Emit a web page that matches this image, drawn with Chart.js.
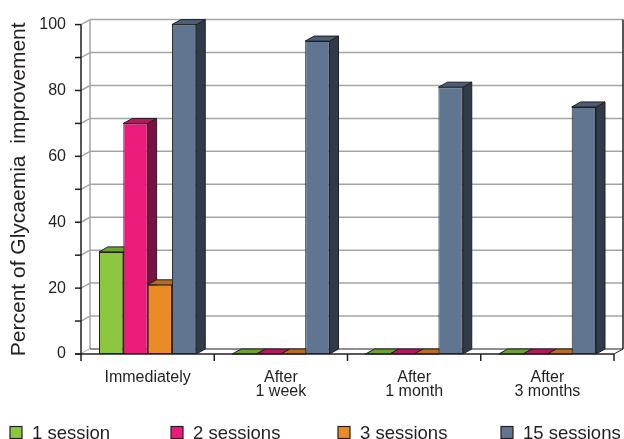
<!DOCTYPE html>
<html>
<head>
<meta charset="utf-8">
<script src="https://cdn.jsdelivr.net/npm/chart.js@4/dist/chart.umd.min.js"></script>
<style>
  html, body { margin: 0; padding: 0; background: #fff; }
  #wrap { width: 624px; height: 439px; position: relative; }
</style>
</head>
<body>
<div id="wrap"><canvas id="glycaemia-chart"></canvas></div>
<script>
// Chart data
const categories = ['Immediately', ['After', '1 week'], ['After', '1 month'], ['After', '3 months']];
const seriesNames = ['1 session', '2 sessions', '3 sessions', '15 sessions'];
const oneSession = [31, 0, 0, 0];
const twoSessions = [70, 0, 0, 0];
const threeSessions = [21, 0, 0, 0];
const fifteenSessions = [100, 95, 81, 75];

// front / top / side shades for each series
const fronts = ['#8cc63f', '#ec1b7b', '#ea8b25', '#5f7590'];
const tops = ['#6aa532', '#b8165f', '#bb6c1f', '#4b5e75'];
const sides = ['#4e7d22', '#7a1142', '#8a5115', '#2f3b48'];

const ink = '#231f20';
const gridColor = '#a5a5a5';
const fontFamily = '"Liberation Sans", Arial, sans-serif';
const dx = 9, dy = 5; // depth of the 3d boxes

function line(ctx, x1, y1, x2, y2) {
  ctx.beginPath();
  ctx.moveTo(x1, y1);
  ctx.lineTo(x2, y2);
  ctx.stroke();
}

function poly(ctx, pts, fill) {
  ctx.beginPath();
  ctx.moveTo(pts[0][0], pts[0][1]);
  for (let i = 1; i < pts.length; i++) ctx.lineTo(pts[i][0], pts[i][1]);
  ctx.closePath();
  ctx.fillStyle = fill;
  ctx.fill();
  ctx.stroke();
}

const box3d = {
  id: 'box3d',
  beforeDatasetsDraw(chart) {
    const ctx = chart.ctx;
    const a = chart.chartArea;
    const y = chart.scales.y;
    const bottom = y.getPixelForValue(0);
    const top = y.getPixelForValue(100);
    ctx.save();

    // back wall + left wall grid
    ctx.strokeStyle = gridColor;
    ctx.lineWidth = 1.5;
    for (let v = 0; v <= 100; v += 10) {
      const py = y.getPixelForValue(v);
      line(ctx, a.left, py, a.left + dx, py - dy);
      if (v > 0) line(ctx, a.left + dx, py - dy, a.right + dx, py - dy);
    }
    line(ctx, a.left + dx, top - dy, a.left + dx, bottom - dy);

    // floor
    ctx.strokeStyle = ink;
    ctx.lineWidth = 1;
    ctx.beginPath();
    ctx.moveTo(a.left, bottom);
    ctx.lineTo(a.right, bottom);
    ctx.lineTo(a.right + dx, bottom - dy);
    ctx.lineTo(a.left + dx, bottom - dy);
    ctx.closePath();
    ctx.fillStyle = '#fff';
    ctx.fill();
    line(ctx, a.left + dx, bottom - dy, a.right + dx, bottom - dy);
    line(ctx, a.right, bottom, a.right + dx, bottom - dy);
    ctx.lineWidth = 1.5;
    line(ctx, a.right + dx, top - dy, a.right + dx, bottom - dy);

    // tops and sides of the boxes, left to right
    const boxes = [];
    chart.data.datasets.forEach((ds, i) => {
      chart.getDatasetMeta(i).data.forEach(bar => boxes.push({bar, i}));
    });
    boxes.sort((p, q) => p.bar.x - q.bar.x);
    ctx.lineWidth = 1;
    ctx.strokeStyle = ink;
    ctx.lineJoin = 'round';
    boxes.forEach(({bar, i}) => {
      const x0 = bar.x - bar.width / 2;
      const x1 = bar.x + bar.width / 2;
      const t = Math.min(bar.y, bar.base);
      const b = bar.base;
      if (b - t > 0.5) {
        poly(ctx, [[x1, t], [x1 + dx, t - dy], [x1 + dx, b - dy], [x1, b]], sides[i]);
      }
      poly(ctx, [[x0, t], [x1, t], [x1 + dx, t - dy], [x0 + dx, t - dy]], tops[i]);
    });
    ctx.restore();
  },
  afterDatasetsDraw(chart) {
    const ctx = chart.ctx;
    const a = chart.chartArea;
    const y = chart.scales.y;
    const bottom = y.getPixelForValue(0);
    ctx.save();
    ctx.strokeStyle = ink;
    ctx.lineWidth = 1.5;
    // value axis with ticks every 10
    line(ctx, a.left, y.getPixelForValue(100), a.left, bottom);
    for (let v = 0; v <= 100; v += 10) {
      const py = y.getPixelForValue(v);
      line(ctx, a.left - 6, py, a.left, py);
    }
    // category axis with ticks between groups
    line(ctx, a.left - 6, bottom, a.right, bottom);
    const n = categories.length;
    for (let i = 0; i <= n; i++) {
      const px = a.left + i * (a.right - a.left) / n;
      line(ctx, px, bottom, px, bottom + 7);
    }
    ctx.restore();
  },
  afterDraw(chart) {
    // legend along the bottom
    const ctx = chart.ctx;
    const boxX = [10, 171, 338, 501];
    ctx.save();
    ctx.font = '18.5px ' + fontFamily;
    ctx.textBaseline = 'alphabetic';
    ctx.fillStyle = ink;
    ctx.lineWidth = 1.2;
    ctx.strokeStyle = ink;
    chart.data.datasets.forEach((ds, i) => {
      ctx.fillStyle = fronts[i];
      ctx.fillRect(boxX[i], 426.5, 12, 12);
      ctx.strokeRect(boxX[i], 426.5, 12, 12);
      ctx.fillStyle = ink;
      ctx.fillText(ds.label, boxX[i] + 22, 439);
    });
    ctx.restore();
  }
};

const seriesValues = [oneSession, twoSessions, threeSessions, fifteenSessions];
const chartdata = {
  labels: categories,
  datasets: seriesValues.map((vals, i) => ({
    label: seriesNames[i],
    data: vals,
    backgroundColor: fronts[i],
    borderColor: ink,
    borderWidth: 1,
    borderSkipped: false,
    categoryPercentage: 0.73,
    barPercentage: 1
  }))
};

const box = document.getElementById('glycaemia-chart');
const chart = new Chart(box, {
  type: 'bar',
  data: chartdata,
  plugins: [box3d],
  options: {
    responsive: true,
    maintainAspectRatio: false,
    animation: false,
    devicePixelRatio: 1,
    layout: {
      padding: {left: 0, right: 10, top: 22, bottom: 35}
    },
    scales: {
      x: {
        grid: {display: false, drawTicks: false},
        border: {display: false},
        ticks: {
          color: ink,
          padding: 16,
          font: {family: fontFamily, size: 16, lineHeight: 0.9},
          maxRotation: 0
        },
        afterFit: (scale) => { scale.height = 50; }
      },
      y: {
        min: 0,
        max: 100,
        grid: {display: false, drawTicks: false},
        border: {display: false},
        ticks: {
          stepSize: 20,
          color: ink,
          padding: 15,
          font: {family: fontFamily, size: 16}
        },
        title: {
          display: true,
          text: 'Percent of Glycaemia  improvement',
          color: ink,
          padding: {top: 7, bottom: 0},
          font: {family: fontFamily, size: 21}
        },
        afterFit: (scale) => { scale.width = 81; }
      }
    },
    plugins: {
      legend: {display: false},
      tooltip: {enabled: false}
    }
  }
});
</script>
</body>
</html>
